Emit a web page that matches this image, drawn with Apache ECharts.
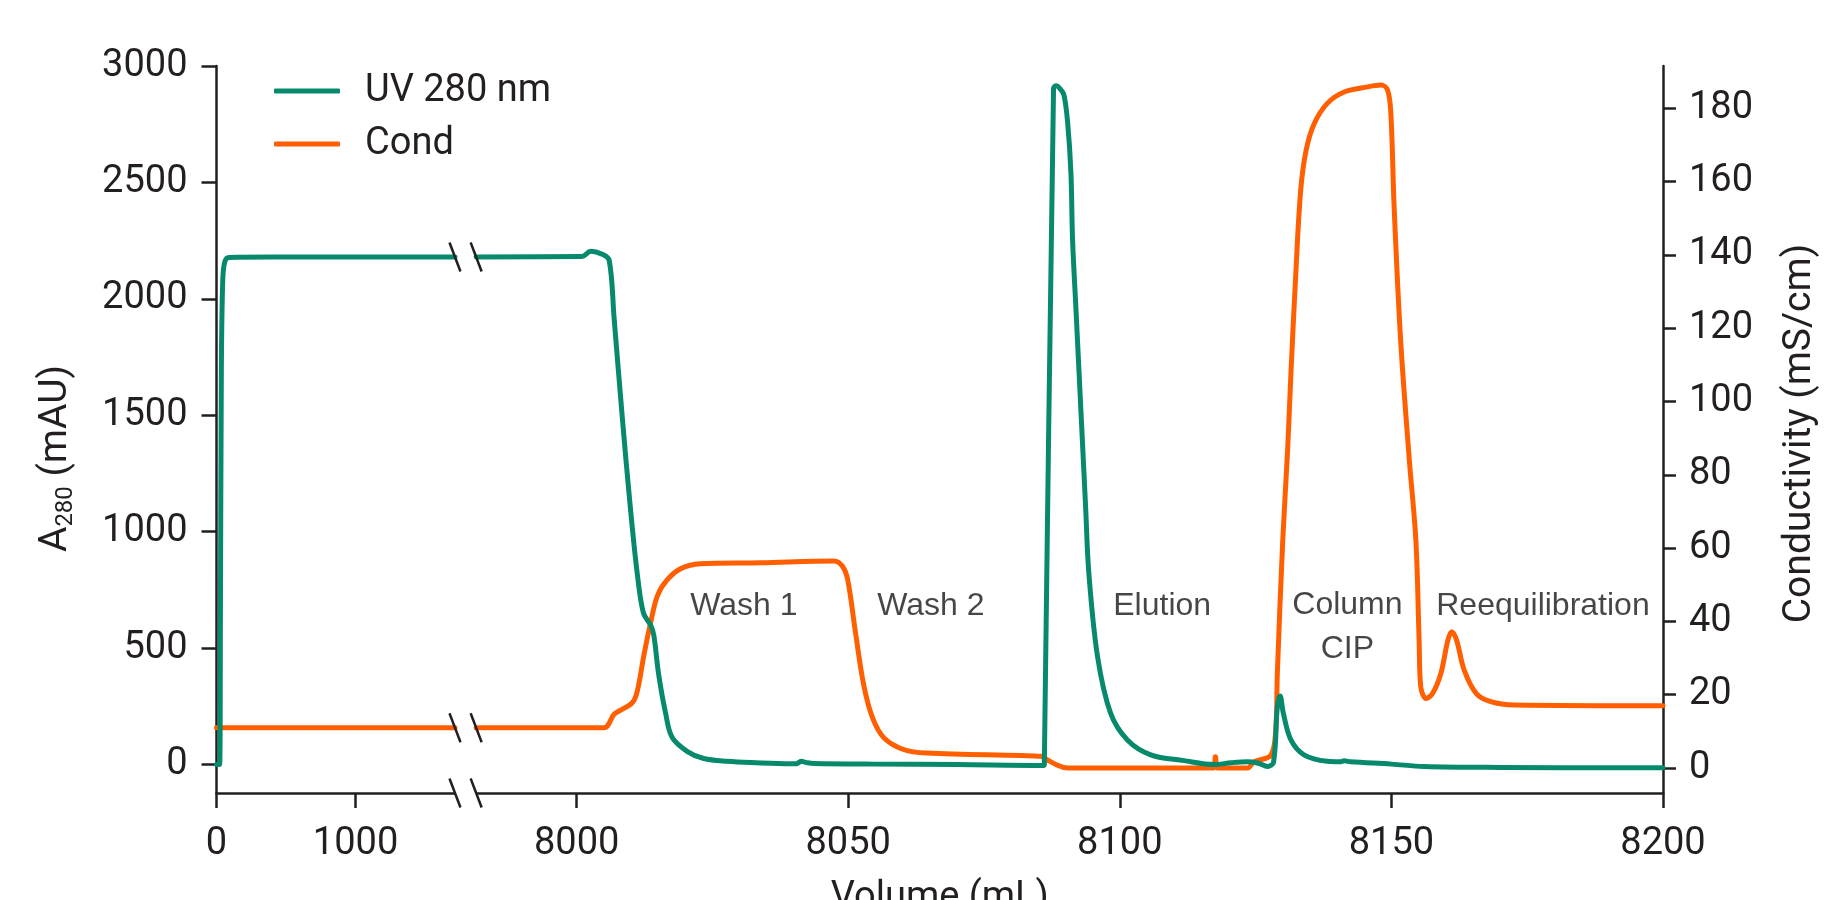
<!DOCTYPE html>
<html><head><meta charset="utf-8">
<script src="https://cdn.jsdelivr.net/npm/echarts@6/dist/echarts.min.js"></script>
<style>html,body{margin:0;padding:0;background:#fff}#c{width:1825px;height:900px}</style>
</head><body><div id="c"></div>
<script>
// ---------- data ----------
const xTickLabels = [0, 1000, 8000, 8050, 8100, 8150, 8200];
const leftTicks = [0, 500, 1000, 1500, 2000, 2500, 3000];
const rightTicks = [0, 20, 40, 60, 80, 100, 120, 140, 160, 180];

const uvVolume = [0, 22, 28, 35, 45, 60, 90, 400, 1715,
  7981.5, 8001, 8002.6, 8004.7, 8006, 8006.9, 8008.4, 8009.9, 8011.2, 8012.3, 8013.6, 8014.2, 8015.1, 8016.4, 8017.6,
  8020.4, 8023.4, 8027.7, 8033, 8039.4, 8040.5, 8041.3, 8042.5, 8043.7, 8055, 8070, 8085.9,
  8086.1, 8087.8, 8088.3, 8088.9, 8089.7, 8090.4, 8091.0, 8091.3, 8091.9, 8092.5, 8093.1, 8093.7, 8094.3,
  8095.9, 8098.3, 8101.4, 8105.7, 8111.8, 8117.4, 8120.5, 8123.5, 8125.5, 8127.2, 8128.3, 8129.0, 8129.5,
  8130.1, 8131.5, 8133.9, 8138.2, 8140.5, 8141.3, 8142.5, 8150, 8156, 8170, 8200];
const uvA280 = [0, 0, 600, 1700, 2080, 2160, 2178, 2180, 2180,
  2180, 2182, 2205, 2192, 2165, 1917, 1492, 1101, 812, 651, 600, 557, 387, 218, 116,
  56, 26, 14, 8, 4, 4, 14, 8, 5, 2, 0, -4,
  0, 2905, 2915, 2905, 2877, 2755, 2541, 2254, 1968, 1681, 1395, 1108, 822,
  464, 221, 106, 42, 17, 0, 8, 12, 6, -8, 10, 249, 295,
  221, 106, 42, 14, 12, 16, 12, 2, -8, -12, -14];

const condVolume = [0, 1715,
  7981.5, 8005, 8006.9, 8008.1, 8010.3, 8011.2, 8012.4, 8013.6, 8014.9, 8016.7, 8019.2, 8022.8, 8033.9, 8047.4,
  8048.9, 8049.9, 8051.4, 8052.9, 8054.5, 8056.6, 8060.3, 8064.6, 8081.8, 8085.5, 8086.7, 8088.5, 8090.4,
  8117.2, 8117.6, 8118, 8123.5, 8124.7, 8127.8, 8128.7, 8129, 8130, 8130.9, 8131.5, 8132.4, 8133.3, 8134.3,
  8135.8, 8138.2, 8141.3, 8145.6, 8148.1, 8149.3, 8149.9, 8150.5, 8151.7, 8153.3, 8154.5, 8155.1, 8155.4,
  8156.4, 8157.6, 8159.1, 8160.4, 8161.1, 8162, 8163.4, 8165.6, 8168.3, 8172.6, 8200];
const condValue = [11, 11,
  11, 11, 14.7, 15.8, 17.9, 21.2, 30.9, 39.5, 47.1, 51.4, 54.4, 55.7, 56, 56.5,
  55.1, 51.4, 36.3, 22.3, 13.6, 8.2, 5.0, 4.1, 3.4, 3.2, 2.2, 0.8, 0,
  0, 3.1, 0, 0, 1.7, 3.5, 10.4, 25.8, 62.2, 87, 107.6, 134.9, 157.6, 168.5,
  175.8, 181.3, 184.4, 185.8, 186.3, 184.9, 178.5, 153.1, 116.7, 84, 62.2, 34.9, 22.2,
  19, 20.4, 25.8, 34.9, 37.2, 34.9, 26.7, 20.4, 18.1, 17.2, 17.0];

const phaseLabels = ['Wash 1', 'Wash 2', 'Elution', 'Column\nCIP', 'Reequilibration'];
const phaseVolume = [8030.8, 8065.2, 8107.8, 8141.9, 8177.9];
const phaseCond = [44.2, 44.2, 44.2, 38.4, 44.2];

// ---------- broken x axis mapping ----------
const LOW_ORIGIN = 7933.7, LOW_SCALE = 0.0256, SPLIT = 5000;
const LOW_END = 1715, HIGH_START = 7981.5;
function toAxis(v) { return v < SPLIT ? LOW_ORIGIN + v * LOW_SCALE : v; }
function build(vol, val) {
  const out = [];
  for (let i = 0; i < vol.length; i++) {
    if (i > 0 && vol[i - 1] < SPLIT && vol[i] >= SPLIT) {
      out.push([(toAxis(vol[i - 1]) + toAxis(vol[i])) / 2, '-']);
    }
    out.push([toAxis(vol[i]), val[i]]);
  }
  return out;
}
const xTickPos = xTickLabels.map(toAxis);
function xLabel(v) {
  for (let i = 0; i < xTickPos.length; i++) if (Math.abs(xTickPos[i] - v) < 1e-6) return String(xTickLabels[i]);
  return '';
}

const INK = '#231f20', GREEN = '#078a6c', ORANGE = '#ff5f00';
const FONT = 'Roboto';
const axisCommon = {
  axisLine: { show: true, onZero: false, lineStyle: { color: INK, width: 2.5 } },
  axisTick: { show: true, length: 15, lineStyle: { color: INK, width: 2.5 } },
  splitLine: { show: false },
  nameTextStyle: { fontFamily: FONT, fontSize: 38, color: INK }
};

const chart = echarts.init(document.getElementById('c'), null, { renderer: 'canvas' });
chart.setOption({
  animation: false,
  backgroundColor: '#fff',
  grid: { left: 216.5, right: 162, top: 66, bottom: 107, containLabel: false, outerBoundsMode: 'none' },
  legend: {
    orient: 'vertical', left: 269, top: 67, itemWidth: 66, itemHeight: 5, itemGap: 15,
    icon: 'roundRect',
    data: ['UV 280 nm', 'Cond'],
    textStyle: { fontFamily: FONT, fontSize: 38, color: INK, padding: [0, 0, 0, 20] }
  },
  xAxis: Object.assign({}, axisCommon, {
    type: 'value', min: toAxis(0), max: 8200,
    name: 'Volume (mL)', nameLocation: 'middle', nameGap: 86,
    axisTick: Object.assign({}, axisCommon.axisTick, { customValues: xTickPos }),
    axisLabel: { customValues: xTickPos, formatter: xLabel, fontFamily: FONT, fontSize: 38, color: INK, margin: 32 }
  }),
  yAxis: [
    Object.assign({}, axisCommon, {
      type: 'value', min: -122, max: 3000, position: 'left',
      name: '{a|A}{s|280}{a| (mAU)}', nameLocation: 'middle', nameGap: 139, nameRotate: 90,
      nameTextStyle: { fontFamily: FONT, fontSize: 39, color: INK, padding: [0, 58, 0, 0],
        rich: { a: { fontFamily: FONT, fontSize: 39, color: INK, lineHeight: 42 },
                s: { fontFamily: FONT, fontSize: 24, color: INK, lineHeight: 12, verticalAlign: 'bottom' } } },
      axisTick: Object.assign({}, axisCommon.axisTick, { customValues: leftTicks }),
      axisLabel: { customValues: leftTicks, formatter: v => String(v), fontFamily: FONT, fontSize: 38, color: INK, margin: 29 }
    }),
    Object.assign({}, axisCommon, {
      type: 'value', min: -6.8, max: 191.5, position: 'right',
      name: 'Conductivity (mS/cm)', nameLocation: 'middle', nameGap: 118, nameRotate: 90,
      nameTextStyle: { fontFamily: FONT, fontSize: 39, color: INK, padding: [0, 8, 0, 0] },
      axisTick: Object.assign({}, axisCommon.axisTick, { length: 13, customValues: rightTicks }),
      axisLabel: { customValues: rightTicks, formatter: v => String(v), fontFamily: FONT, fontSize: 38, color: INK, margin: 26 }
    })
  ],
  series: [
    {
      name: 'Cond', type: 'line', yAxisIndex: 1, data: build(condVolume, condValue),
      showSymbol: false, symbol: 'none', smooth: 0.35, connectNulls: false,
      lineStyle: { color: ORANGE, width: 5, cap: 'round', join: 'round' }, itemStyle: { color: ORANGE }, z: 2
    },
    {
      name: 'UV 280 nm', type: 'line', yAxisIndex: 0, data: build(uvVolume, uvA280),
      showSymbol: false, symbol: 'none', smooth: 0.35, connectNulls: false,
      lineStyle: { color: GREEN, width: 5, cap: 'round', join: 'round' }, itemStyle: { color: GREEN }, z: 3
    },
    {
      name: 'phases', type: 'scatter', yAxisIndex: 1, silent: true, symbolSize: 1,
      itemStyle: { color: 'rgba(0,0,0,0)' },
      data: phaseLabels.map((t, i) => ({ name: t, value: [phaseVolume[i], phaseCond[i]] })),
      label: { show: true, position: 'inside', formatter: '{b}', fontFamily: 'Liberation Sans', fontSize: 32,
        color: '#1a1718', lineHeight: 44, align: 'center', verticalAlign: 'middle' },
      z: 5
    }
  ]
});

// ---------- break marks ----------
function slash(cx, cy) {
  return { type: 'line', shape: { x1: cx - 5.5, y1: cy - 14.5, x2: cx + 5.5, y2: cy + 14.5 },
    style: { stroke: INK, lineWidth: 2.5 }, z: 100 };
}
const uA = toAxis(LOW_END), uB = HIGH_START;
const gfx = [];
const uvBreak = uvA280[uvVolume.indexOf(LOW_END)];
const condBreak = condValue[condVolume.indexOf(LOW_END)];
[[0, uvBreak], [1, condBreak]].forEach(([yi, yv]) => {
  const pa = chart.convertToPixel({ xAxisIndex: 0, yAxisIndex: yi }, [uA, yv]);
  const pb = chart.convertToPixel({ xAxisIndex: 0, yAxisIndex: yi }, [uB, yv]);
  gfx.push(slash(pa[0], pa[1]), slash(pb[0], pb[1]));
});
const axA = chart.convertToPixel({ xAxisIndex: 0, yAxisIndex: 0 }, [uA, -122]);
const axB = chart.convertToPixel({ xAxisIndex: 0, yAxisIndex: 0 }, [uB, -122]);
gfx.push({ type: 'rect', shape: { x: axA[0], y: axA[1] - 3, width: axB[0] - axA[0], height: 6 },
  style: { fill: '#fff' }, z: 99 });
gfx.push(slash(axA[0], axA[1]), slash(axB[0], axB[1]));
chart.setOption({ graphic: gfx });
</script>
</body></html>
